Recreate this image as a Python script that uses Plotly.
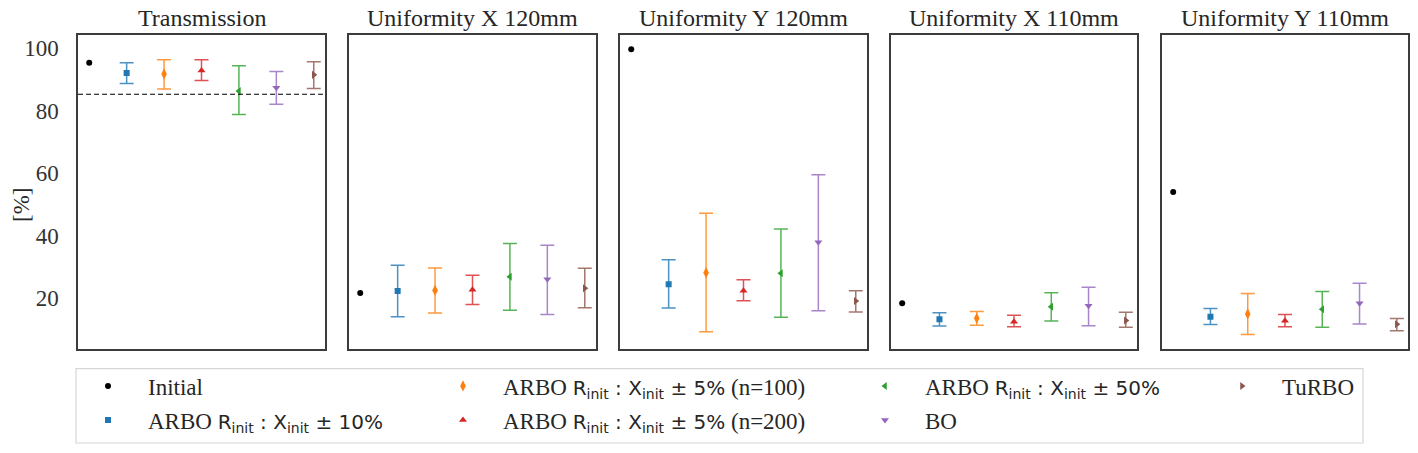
import plotly.graph_objects as go
from plotly.subplots import make_subplots

# panels (one subplot each) and the x categories inside every panel
panels = ["Transmission", "Uniformity X 120mm", "Uniformity Y 120mm",
          "Uniformity X 110mm", "Uniformity Y 110mm"]
slots = ["Initial", "ARBO 10%", "ARBO 5% n100", "ARBO 5% n200",
         "ARBO 50%", "BO", "TuRBO"]

# initial design, one value per panel
initial = [95.4, 21.7, 99.7, 18.4, 54.0]
transmission_target = 85.3

# per method: mean, upper end and lower end of the error bar, one per panel
arbo10_mean = [92.1, 22.3, 24.5, 13.3, 14.1]
arbo10_hi = [95.4, 30.6, 32.3, 15.4, 16.7]
arbo10_lo = [88.7, 14.1, 16.9, 11.1, 11.6]

arbo5_n100_mean = [91.8, 22.5, 28.2, 13.6, 15.0]
arbo5_n100_hi = [96.3, 29.7, 47.2, 15.8, 21.5]
arbo5_n100_lo = [87.0, 15.3, 9.3, 11.4, 8.4]

arbo5_n200_mean = [92.9, 22.7, 22.4, 12.5, 12.8]
arbo5_n200_hi = [96.3, 27.4, 25.9, 14.6, 14.8]
arbo5_n200_lo = [89.7, 18.0, 19.2, 10.9, 10.9]

arbo50_mean = [86.3, 26.9, 28.0, 17.3, 16.5]
arbo50_hi = [94.4, 37.5, 42.2, 21.8, 22.2]
arbo50_lo = [78.8, 16.2, 13.9, 12.7, 10.7]

bo_mean = [87.4, 26.1, 37.9, 17.6, 18.4]
bo_hi = [92.6, 37.0, 59.5, 23.5, 24.8]
bo_lo = [82.1, 14.8, 16.0, 11.2, 11.8]

turbo_mean = [91.5, 23.2, 19.1, 12.9, 11.7]
turbo_hi = [95.7, 29.6, 22.4, 15.5, 13.5]
turbo_lo = [87.1, 17.0, 15.6, 10.7, 9.6]

y_ticks = [20, 40, 60, 80, 100]

W, H = 1418, 453
SERIF = "Liberation Serif"
MATH = '<span style="font-family:DejaVu Sans;font-size:20px">'


def arbo_label(spread, extra=""):
    """Legend text 'ARBO R_init : X_init ± x%' with the math part in sans."""
    return ("ARBO " + MATH + "R<sub>init</sub> : X<sub>init</sub> ± "
            + spread + "%</span>" + extra)


methods = [
    dict(slot="ARBO 10%", name=arbo_label("10"), color="31,119,180",
         symbol="square", size=6, mean=arbo10_mean, hi=arbo10_hi, lo=arbo10_lo),
    dict(slot="ARBO 5% n100", name=arbo_label("5", " (n=100)"), color="255,127,14",
         symbol="diamond-tall", size=8, mean=arbo5_n100_mean, hi=arbo5_n100_hi,
         lo=arbo5_n100_lo),
    dict(slot="ARBO 5% n200", name=arbo_label("5", " (n=200)"), color="214,39,40",
         symbol="triangle-up", size=7, mean=arbo5_n200_mean, hi=arbo5_n200_hi,
         lo=arbo5_n200_lo),
    dict(slot="ARBO 50%", name=arbo_label("50"), color="44,160,44",
         symbol="triangle-left", size=7, mean=arbo50_mean, hi=arbo50_hi, lo=arbo50_lo),
    dict(slot="BO", name="BO", color="148,103,189",
         symbol="triangle-down", size=7, mean=bo_mean, hi=bo_hi, lo=bo_lo),
    dict(slot="TuRBO", name="TuRBO", color="140,86,75",
         symbol="triangle-right", size=7, mean=turbo_mean, hi=turbo_hi, lo=turbo_lo),
]

# legend entry placement (px): matplotlib ncol=4, filled column by column
legend_pos = [(108, 386), (108, 420), (463, 386), (463, 420),
              (885, 386), (885, 420), (1242, 386)]

panel_px = [(78, 325), (349, 596), (620, 867), (891, 1137), (1162, 1408)]
plot_top, plot_bottom = 34.7, 349.2

fig = make_subplots(rows=1, cols=5, shared_yaxes=True, subplot_titles=panels)

for p in range(len(panels)):
    fig.add_trace(
        go.Scatter(
            x=[slots[0]], y=[initial[p]], mode="markers", name="Initial",
            marker=dict(color="black", size=6, symbol="circle"),
            showlegend=(p == 0), legend="legend",
        ),
        row=1, col=p + 1,
    )
    for k, m in enumerate(methods):
        mean = m["mean"][p]
        fig.add_trace(
            go.Scatter(
                x=[m["slot"]], y=[mean], mode="markers", name=m["name"],
                marker=dict(color="rgb(%s)" % m["color"], size=m["size"],
                            symbol=m["symbol"]),
                error_y=dict(type="data", symmetric=False,
                             array=[m["hi"][p] - mean],
                             arrayminus=[mean - m["lo"][p]],
                             color="rgba(%s,0.8)" % m["color"],
                             thickness=1.5, width=7),
                showlegend=(p == 0), legend="legend%d" % (k + 2),
            ),
            row=1, col=p + 1,
        )

fig.add_shape(type="line", xref="x domain", yref="y", x0=0, x1=1,
              y0=transmission_target, y1=transmission_target,
              line=dict(color="black", width=1.2, dash="5px,3px"))

for i, (x0, x1) in enumerate(panel_px):
    suffix = "" if i == 0 else str(i + 1)
    fig.layout["xaxis" + suffix].update(
        domain=[x0 / W, x1 / W], type="category", categoryorder="array",
        categoryarray=slots, range=[-0.3, 6.3], showticklabels=False,
        showgrid=False, zeroline=False, showline=True, mirror=True,
        linecolor="#3c3c3c", linewidth=1.5, ticks="",
    )
    fig.layout["yaxis" + suffix].update(
        domain=[1 - plot_bottom / H, 1 - plot_top / H], range=[3.7, 104.35],
        showgrid=False, zeroline=False, showline=True, mirror=True,
        linecolor="#3c3c3c", linewidth=1.5, ticks="",
        tickvals=y_ticks, showticklabels=(i == 0), ticklabelstandoff=13,
        tickfont=dict(family=SERIF, size=23, color="#333333"),
    )
    ann = fig.layout.annotations[i]
    ann.update(x=(x0 + x1) / 2 / W, y=1 - 18 / H, yanchor="middle",
               font=dict(family=SERIF, size=24, color="#262626"))

fig.add_annotation(text="[%]", textangle=-90, x=21 / W, y=1 - 205 / H,
                   xref="paper", yref="paper", xanchor="center", yanchor="middle",
                   showarrow=False,
                   font=dict(family=SERIF, size=23, color="#262626"))

# legend frame
fig.add_shape(type="rect", xref="paper", yref="paper",
              x0=76 / W, x1=1363 / W, y0=1 - 443 / H, y1=1 - 368.7 / H,
              line=dict(color="#d6d6d6", width=1.2), layer="below")

legends = {}
for j, (lx, ly) in enumerate(legend_pos):
    key = "legend" if j == 0 else "legend%d" % (j + 1)
    legends[key] = dict(
        x=(lx - 40) / W, y=1 - ly / H, xanchor="left", yanchor="middle",
        bgcolor="rgba(0,0,0,0)", borderwidth=0, itemwidth=70,
        font=dict(family=SERIF, size=23, color="#262626"),
    )

fig.update_layout(
    width=W, height=H,
    margin=dict(l=0, r=0, t=0, b=0),
    template="plotly_white",
    plot_bgcolor="white",
    paper_bgcolor="white",
    **legends,
)
fig.write_html("out.html", config={"displayModeBar": False},
               post_script="document.body.style.margin = '0';")
